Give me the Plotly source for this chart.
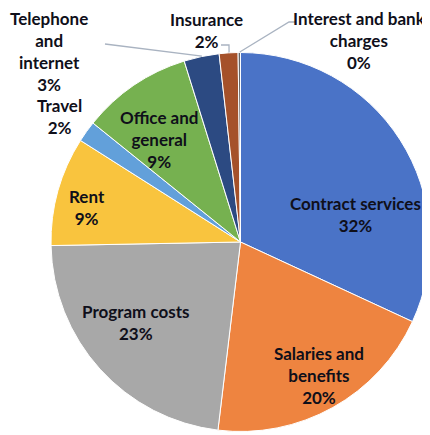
import math
import plotly.graph_objects as go

# ---- data ----
categories = ["Contract services", "Salaries and benefits", "Program costs", "Rent",
              "Travel", "Office and general", "Telephone and internet", "Insurance",
              "Interest and bank charges"]
values = [31.9, 20.0, 22.8, 9.3, 1.8, 9.4, 3.0, 1.6, 0.2]
label_lines = ["Contract services", "Salaries and<br>benefits", "Program costs", "Rent",
               "Travel", "Office and<br>general", "Telephone<br>and<br>internet", "Insurance",
               "Interest and bank<br>charges"]
colors = ["#4A73C7", "#EE8440", "#A8A8A8", "#F9C43E", "#62A0DA", "#76B150",
          "#2C4A82", "#A5512A", "#666666"]

OFF = 8  # page body margin
W, H = 430 - OFF, 435 - OFF
CX, CY, R = 241 - OFF, 242 - OFF, 190  # pie centre/radius in px (figure coords)

# label centres in screen px (layout)
label_pos = [(355, 214), (319, 375), (135, 322), (87, 207), (59, 116), (159, 139),
             (49, 51), (206, 30), (359, 41)]
# leader-line start points near the labels (screen px)
leader_start = [None, None, None, None, None, None,
                [(105, 44)], [(221, 45), (229, 45)], [(296, 22), (289, 22)]]

def px2paper(x, y):
    return x / W, 1 - y / H

def scr2paper(x, y):
    return px2paper(x - OFF, y - OFF)

total = sum(values)
fig = go.Figure(go.Pie(
    labels=categories, values=values, sort=False, direction="clockwise", rotation=0,
    marker=dict(colors=colors, line=dict(color="white", width=1)),
    textinfo="none", hoverinfo="label+percent", showlegend=False,
    domain=dict(x=[(CX - R) / W, min(1, (CX + R) / W)], y=[1 - (CY + R) / H, 1 - (CY - R) / H]),
))

FONT = dict(family="Lato", size=17, color="#0f0f1a")
cum = 0.0
for i, v in enumerate(values):
    frac = v / total
    mid = (cum + frac / 2) * 2 * math.pi
    cum += frac
    pct = f"{round(frac * 100):.0f}%"
    lx, ly = scr2paper(*label_pos[i])
    fig.add_annotation(x=lx, y=ly, xref="paper", yref="paper", showarrow=False,
                       text=f"<b>{label_lines[i]}<br>{pct}</b>", font=FONT,
                       xanchor="center", yanchor="middle", align="center")
    if leader_start[i]:
        tip = (CX + R * math.sin(mid), CY - R * math.cos(mid))
        pts = [scr2paper(x, y) for x, y in leader_start[i]] + [px2paper(*tip)]
        path = "M " + " L ".join(f"{x},{y}" for x, y in pts)
        fig.add_shape(type="path", path=path, xref="paper", yref="paper",
                      line=dict(color="#A9B3C1", width=1.3))

fig.update_layout(width=W, height=H, margin=dict(l=0, r=0, t=0, b=0),
                  paper_bgcolor="white", plot_bgcolor="white")
fig.write_html("out.html")
